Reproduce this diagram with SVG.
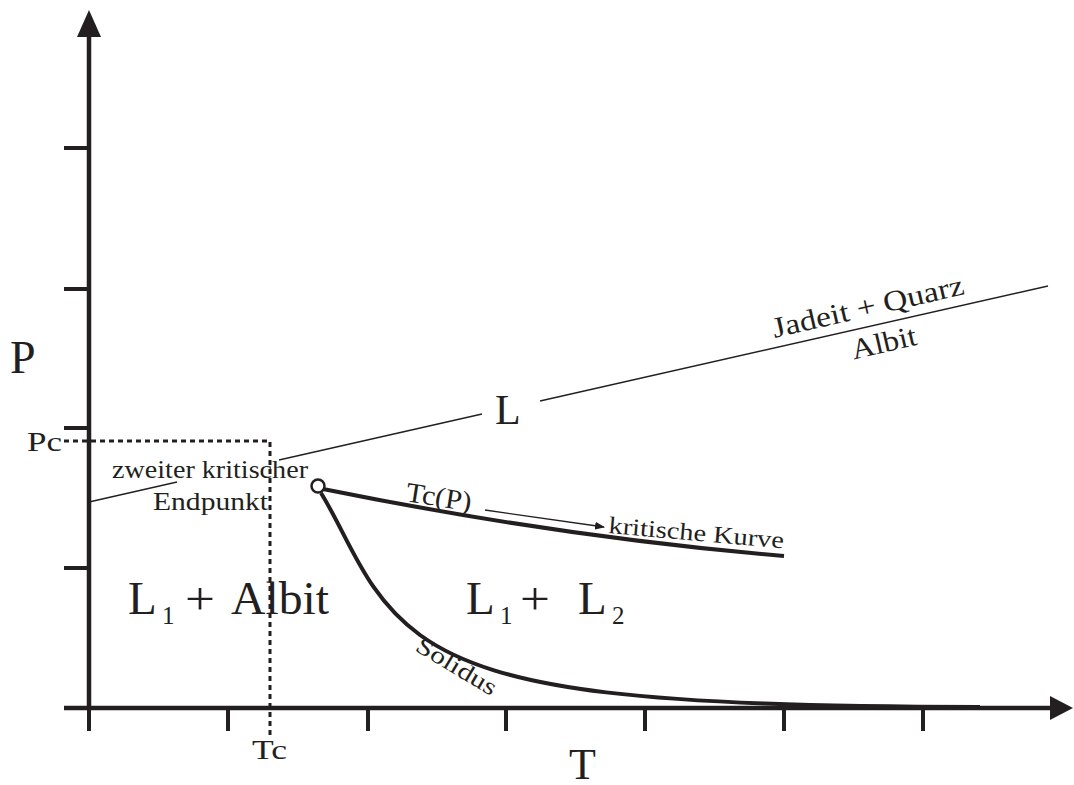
<svg xmlns="http://www.w3.org/2000/svg" width="1074" height="785" viewBox="0 0 1074 785">
<style>
text{font-family:"Liberation Serif","DejaVu Serif",serif;fill:#231f20}
.big{font-size:47px}
.sub{font-size:25px}
.ax{stroke:#231f20;stroke-width:4.5;fill:none}
.tk{stroke:#231f20;stroke-width:4;fill:none}
.thin{stroke:#231f20;stroke-width:1.3;fill:none}
.thick{stroke:#231f20;stroke-width:4;fill:none}
.dot{stroke:#231f20;stroke-width:3;stroke-dasharray:5,4;fill:none}
</style>
<defs>
<marker id="sa" markerWidth="10" markerHeight="8" refX="9" refY="4" orient="auto" markerUnits="userSpaceOnUse"><path d="M0,0 L10,4 L0,8 Z" fill="#231f20"/></marker>
</defs>
<rect width="1074" height="785" fill="#fff"/>
<g id="axes">
<line class="ax" x1="89" y1="30" x2="89" y2="710"/>
<path d="M89,10 L101,37 L77,37 Z" fill="#231f20"/>
<line class="ax" x1="64" y1="708" x2="1055" y2="708"/>
<path d="M1073,708 L1050,696 L1050,720 Z" fill="#231f20"/>
<g class="tk">
<line x1="64" y1="148" x2="89" y2="148"/>
<line x1="64" y1="289" x2="89" y2="289"/>
<line x1="64" y1="428" x2="89" y2="428"/>
<line x1="64" y1="568" x2="89" y2="568"/>
<line x1="89" y1="708" x2="89" y2="731"/>
<line x1="228" y1="708" x2="228" y2="731"/>
<line x1="368" y1="708" x2="368" y2="731"/>
<line x1="506" y1="708" x2="506" y2="731"/>
<line x1="645" y1="708" x2="645" y2="731"/>
<line x1="784" y1="708" x2="784" y2="731"/>
<line x1="923" y1="708" x2="923" y2="731"/>
</g>
</g>
<g id="connectors">
<path class="dot" d="M64,441 H270 V735"/>
<line class="thin" x1="89" y1="502" x2="177" y2="482"/>
<line class="thin" x1="279" y1="460" x2="482" y2="414"/>
<line class="thin" x1="540" y1="401" x2="1048" y2="286"/>
<path class="thick" d="M323,489 Q560,537 784,556"/>
<path class="thick" d="M321,493 C350,540 365,595 420,635 C500,693 650,706 980,707"/>
<line class="thin" x1="485" y1="510" x2="604" y2="527" marker-end="url(#sa)"/>
</g>
<g id="critical-point"><circle cx="318" cy="486" r="6.5" fill="#fff" stroke="#231f20" stroke-width="2.5"/></g>
<g id="labels">
<text x="10" y="373" font-size="46">P</text>
<text x="27" y="451" font-size="27" textLength="35" lengthAdjust="spacingAndGlyphs">Pc</text>
<text x="112" y="478" font-size="25" textLength="196" lengthAdjust="spacingAndGlyphs">zweiter kritischer</text>
<text x="153" y="510" font-size="25" textLength="115" lengthAdjust="spacingAndGlyphs">Endpunkt</text>
<text x="495" y="424" font-size="42">L</text>
<text transform="translate(870,316) rotate(-13)" text-anchor="middle" font-size="29" textLength="196" lengthAdjust="spacingAndGlyphs">Jadeit + Quarz</text>
<text transform="translate(886,352) rotate(-13)" text-anchor="middle" font-size="29" textLength="66" lengthAdjust="spacingAndGlyphs">Albit</text>
<text transform="translate(405,501) rotate(9)" font-size="28" textLength="66" lengthAdjust="spacingAndGlyphs">Tc(P)</text>
<text transform="translate(608,533) rotate(5)" font-size="24" textLength="176" lengthAdjust="spacingAndGlyphs">kritische Kurve</text>
<g id="region-l1-albit">
<text class="big" x="128" y="614">L</text><text class="sub" x="162" y="624">1</text>
<text class="big" x="185" y="614" textLength="30" lengthAdjust="spacingAndGlyphs">+</text>
<text class="big" x="231" y="614" textLength="98" lengthAdjust="spacingAndGlyphs">Albit</text>
</g>
<g id="region-l1-l2">
<text class="big" x="466" y="614">L</text><text class="sub" x="500" y="624">1</text>
<text class="big" x="520" y="614" textLength="30" lengthAdjust="spacingAndGlyphs">+</text>
<text class="big" x="578" y="614">L</text><text class="sub" x="612" y="624">2</text>
</g>
<text transform="translate(414,650) rotate(31)" font-size="24" textLength="90" lengthAdjust="spacingAndGlyphs">Solidus</text>
<text x="252" y="759" font-size="28" textLength="35" lengthAdjust="spacingAndGlyphs">Tc</text>
<text x="569" y="779" font-size="44">T</text>
</g>
</svg>
